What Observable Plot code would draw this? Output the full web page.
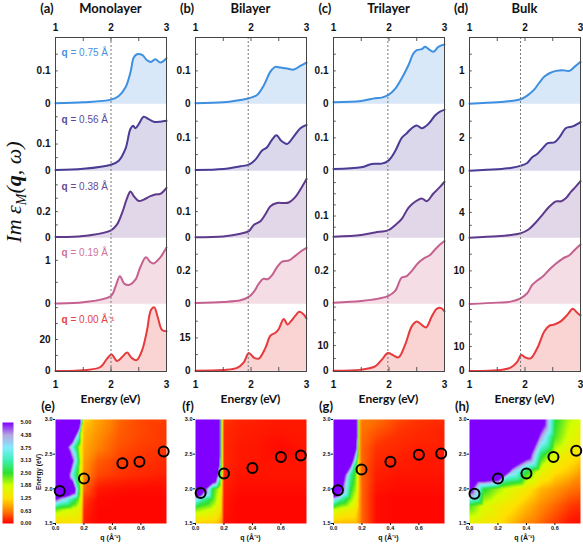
<!DOCTYPE html>
<html><head><meta charset="utf-8">
<script src="https://cdn.jsdelivr.net/npm/d3@7"></script>
<script src="https://cdn.jsdelivr.net/npm/@observablehq/plot@0.6"></script>
<style>
html,body{margin:0;padding:0;background:#fff;}
#fig{position:relative;width:583px;height:544px;overflow:hidden;background:#fff;}
#fig svg{max-width:none !important;}
.lbl{position:absolute;white-space:nowrap;transform:translate(-50%,-50%);color:#111;line-height:1;}
.ttl{font-family:Lato,"Open Sans",sans-serif;font-weight:bold;font-size:13px;}
.ax{font-family:Lato,"Open Sans",sans-serif;font-weight:bold;font-size:12px;}
.sm{font-family:"Liberation Sans",Arial,sans-serif;font-weight:bold;font-size:7px;}
</style></head><body><div id="fig"></div>
<script>
// ---------- labels ----------
const layerNames = ["Monolayer", "Bilayer", "Trilayer", "Bulk"];
const topLetters = ["(a)", "(b)", "(c)", "(d)"];
const mapLetters = ["(e)", "(f)", "(g)", "(h)"];
const qLabelValues = ["= 0.75 Å", "= 0.56 Å", "= 0.38 Å", "= 0.19 Å", "= 0.00 Å⁻¹"];
const energyTicks = [1, 2, 3];
const dashEnergy = [2.0, 1.95, 1.98, 1.92];

// y-axis extents (top of each row) and labelled tick per row
const yTopMono = [0.2, 0.245, 0.5, 1.52, 42];
const yTopBi = [0.2, 0.2, 0.25, 0.4, 30];
const yTopTri = [0.2, 0.2, 0.3, 0.4, 26];
const yTopBulk = [2, 4, 10.3, 20, 27];
const yMajorMono = [0.1, 0.1, 0.2, 1, 20];
const yMajorBi = [0.1, 0.1, 0.1, 0.2, 15];
const yMajorTri = [0.1, 0.1, 0.1, 0.2, 10];
const yMajorBulk = [1, 2, 4, 10, 10];

// ---------- spectra: [energy (eV), Im eps] ----------
const mono075 = [[1.0,0.003],[1.5,0.006],[2.0,0.014],[2.14,0.025],[2.26,0.05],[2.35,0.095],[2.41,0.14],[2.47,0.15],[2.56,0.148],[2.65,0.132],[2.72,0.127],[2.8,0.135],[2.89,0.125],[3.0,0.138]];
const mono056 = [[1.0,0.005],[1.5,0.009],[2.0,0.024],[2.14,0.039],[2.26,0.082],[2.35,0.155],[2.4,0.167],[2.44,0.158],[2.5,0.173],[2.59,0.2],[2.68,0.191],[2.77,0.182],[2.89,0.182],[3.0,0.185]];
const mono038 = [[1.0,0.01],[1.5,0.017],[2.0,0.06],[2.11,0.104],[2.2,0.19],[2.29,0.3],[2.35,0.35],[2.41,0.316],[2.5,0.279],[2.59,0.29],[2.71,0.316],[2.8,0.328],[2.89,0.333],[3.0,0.378]];
const mono019 = [[1.0,0.02],[1.5,0.045],[2.0,0.19],[2.08,0.4],[2.16,0.64],[2.24,0.47],[2.32,0.44],[2.44,0.56],[2.53,0.85],[2.63,1.07],[2.71,0.96],[2.77,0.93],[2.89,1.07],[3.0,1.29]];
const mono000 = [[1.0,0.2],[1.5,0.6],[1.81,2.7],[1.93,8],[2.01,10.5],[2.11,6.5],[2.2,9],[2.29,11.8],[2.37,8.5],[2.46,7],[2.56,13.2],[2.65,25.9],[2.72,38.5],[2.78,40.2],[2.84,34.3],[2.92,25.9],[3.0,25.2]];

const bi075 = [[1.0,0.003],[1.5,0.006],[1.81,0.013],[1.96,0.018],[2.11,0.028],[2.23,0.056],[2.35,0.098],[2.44,0.112],[2.53,0.11],[2.65,0.107],[2.77,0.104],[2.89,0.115],[3.0,0.125]];
const bi056 = [[1.0,0.004],[1.5,0.007],[1.81,0.015],[1.96,0.02],[2.08,0.035],[2.2,0.062],[2.29,0.072],[2.38,0.095],[2.46,0.108],[2.54,0.092],[2.65,0.082],[2.77,0.104],[2.89,0.129],[3.0,0.139]];
const bi038 = [[1.0,0.004],[1.5,0.007],[1.81,0.017],[1.96,0.027],[2.05,0.05],[2.17,0.064],[2.26,0.09],[2.35,0.12],[2.47,0.132],[2.59,0.132],[2.68,0.134],[2.8,0.155],[2.92,0.193],[3.0,0.222]];
const bi019 = [[1.0,0.008],[1.5,0.014],[1.81,0.024],[1.96,0.044],[2.05,0.074],[2.14,0.123],[2.22,0.152],[2.3,0.15],[2.38,0.175],[2.47,0.223],[2.56,0.256],[2.68,0.262],[2.77,0.283],[2.89,0.315],[3.0,0.338]];
const bi000 = [[1.0,0.3],[1.5,0.6],[1.75,1.5],[1.87,4],[1.96,8.2],[2.05,6.2],[2.14,5.7],[2.26,10.5],[2.35,16],[2.44,17.3],[2.5,19],[2.59,23.5],[2.66,21],[2.72,22.5],[2.8,25],[2.87,26.7],[2.95,25.5],[3.0,23.7]];

const tri075 = [[1.0,0.006],[1.5,0.01],[1.75,0.018],[1.87,0.02],[1.99,0.028],[2.11,0.046],[2.23,0.078],[2.35,0.117],[2.44,0.152],[2.5,0.162],[2.59,0.165],[2.65,0.172],[2.71,0.166],[2.8,0.157],[2.89,0.172],[3.0,0.179]];
const tri056 = [[1.0,0.007],[1.5,0.012],[1.69,0.022],[1.87,0.023],[1.99,0.032],[2.11,0.06],[2.23,0.1],[2.32,0.114],[2.41,0.129],[2.5,0.137],[2.59,0.129],[2.71,0.142],[2.83,0.167],[2.92,0.179],[3.0,0.184]];
const tri038 = [[1.0,0.007],[1.5,0.015],[1.75,0.026],[1.99,0.037],[2.11,0.059],[2.23,0.087],[2.35,0.137],[2.47,0.164],[2.59,0.179],[2.68,0.167],[2.8,0.201],[2.92,0.231],[3.0,0.254]];
const tri019 = [[1.0,0.01],[1.5,0.02],[1.81,0.034],[1.99,0.05],[2.11,0.08],[2.23,0.16],[2.32,0.169],[2.41,0.2],[2.53,0.249],[2.65,0.279],[2.74,0.295],[2.83,0.328],[2.92,0.358],[3.0,0.378]];
const tri000 = [[1.0,0.26],[1.5,0.65],[1.75,1.9],[1.87,4.5],[1.98,7.1],[2.08,6.2],[2.17,5.4],[2.29,10.3],[2.41,17.5],[2.5,19.4],[2.59,18.1],[2.67,17.1],[2.77,21.3],[2.86,24.3],[2.94,24.6],[3.0,23.3]];

const bulk075 = [[1.0,0.02],[1.5,0.06],[1.74,0.1],[1.92,0.15],[2.04,0.26],[2.16,0.43],[2.25,0.63],[2.35,0.83],[2.44,0.93],[2.56,1.0],[2.68,1.02],[2.8,1.0],[2.89,1.12],[3.0,1.27]];
const bulk056 = [[1.0,0.04],[1.5,0.12],[1.74,0.2],[1.93,0.34],[2.04,0.5],[2.13,0.84],[2.22,1.03],[2.32,1.39],[2.41,1.69],[2.53,1.73],[2.62,2.03],[2.74,2.59],[2.86,2.69],[3.0,2.95]];
const bulk038 = [[1.0,0.1],[1.5,0.3],[1.74,0.5],[1.93,0.8],[2.07,1.4],[2.19,2.4],[2.32,3.7],[2.44,4.9],[2.56,5.7],[2.65,5.7],[2.74,6.2],[2.83,7.2],[2.92,8],[3.0,8.8]];
const bulk019 = [[1.0,0.1],[1.5,0.5],[1.74,0.8],[1.92,1.8],[2.04,3.3],[2.13,5.8],[2.22,7.1],[2.32,8.3],[2.44,10.4],[2.56,12.2],[2.68,13.7],[2.8,14.7],[2.89,16.2],[3.0,17.9]];
const bulk000 = [[1.0,0.1],[1.5,0.4],[1.74,1.5],[1.86,3.8],[1.93,6.6],[2.01,5.6],[2.1,5.2],[2.22,9.3],[2.35,16.2],[2.44,18.5],[2.53,18.9],[2.65,20.3],[2.77,23],[2.86,25.3],[2.94,23.7],[3.0,22.6]];

// ---------- loss maps ----------
const heatQ = [0, 0.06, 0.12, 0.16, 0.18, 0.2, 0.3, 0.45, 0.6, 0.8];
const heatE = [1.5, 1.7, 1.85, 2.0, 2.2, 2.4, 2.6, 2.8, 3.0];
const heatMono = [
  [1.1,1.2,1.3,1.3,1.2,0.15,0.03,0.03,0.03,0.03],
  [2.3,2.0,1.8,1.6,1.4,0.2,0.03,0.03,0.03,0.03],
  [5,4,3,2.3,1.6,0.3,0.05,0.03,0.03,0.03],
  [8,8,6.5,3,1.8,0.5,0.12,0.08,0.06,0.06],
  [8,7,3.5,2.3,1.5,0.7,0.35,0.25,0.2,0.15],
  [8,8,5,2.8,1.6,0.8,0.45,0.3,0.25,0.2],
  [8,6,3.5,2.2,1.5,0.9,0.65,0.4,0.3,0.25],
  [8,8,7,4,1.8,1.0,0.75,0.45,0.35,0.25],
  [8,8,8,8,4,1.2,0.85,0.5,0.35,0.3]];
const heatBi = [
  [1.1,1.1,1.1,1.0,0.9,0.08,0.03,0.03,0.03,0.03],
  [2.2,2.0,1.8,1.5,1.2,0.1,0.03,0.03,0.03,0.03],
  [4,3,2.4,1.8,1.3,0.12,0.03,0.03,0.03,0.03],
  [8,5.5,2.6,2.0,1.5,0.15,0.06,0.06,0.06,0.06],
  [8,8,8,4.5,2.2,0.2,0.1,0.1,0.1,0.1],
  [8,8,8,7,2.5,0.2,0.12,0.1,0.1,0.1],
  [8,8,8,8,2.5,0.2,0.12,0.1,0.05,0.1],
  [8,8,8,8,2.5,0.2,0.15,0.12,0.1,0.12],
  [8,8,8,8,2.5,0.25,0.18,0.15,0.12,0.12]];
const heatTri = [
  [1.0,1.0,1.0,1.0,0.8,0.5,0.06,0.03,0.03,0.03],
  [2.0,1.7,1.5,1.3,0.9,0.5,0.06,0.03,0.03,0.03],
  [4,3,2.2,1.7,0.9,0.5,0.06,0.03,0.03,0.03],
  [8,5,2.6,2.0,1.0,0.5,0.1,0.06,0.06,0.06],
  [8,6,3,2.2,1.0,0.5,0.15,0.1,0.1,0.1],
  [8,8,6,3,1.0,0.5,0.2,0.15,0.12,0.12],
  [8,8,8,5,1.0,0.5,0.25,0.2,0.15,0.15],
  [8,8,8,6,1.0,0.55,0.4,0.25,0.2,0.15],
  [8,8,8,6,1.0,0.6,0.55,0.35,0.25,0.2]];
const heatQBulk = [0, 0.1, 0.2, 0.3, 0.4, 0.5, 0.6, 0.7, 0.8];
const heatEBulk = [1.5, 1.75, 2.0, 2.25, 2.5, 2.75, 3.0];
const heatBulk = [
  [1.6,1.4,1.3,1.0,0.7,0.5,0.3,0.1,0.05],
  [2.4,1.8,1.5,1.3,1.0,0.7,0.5,0.3,0.2],
  [5.5,2.6,2.1,1.7,1.4,1.0,0.8,0.6,0.5],
  [8,8,8,4.2,2.6,1.7,1.3,1.1,0.8],
  [8,8,8,8,6,2.8,1.8,1.4,1.2],
  [8,8,8,8,8,4.5,2.4,1.8,1.5],
  [8,8,8,8,8,6,2.6,2.0,1.8]];

// peak positions (circles)
const peakQMono = [0.03, 0.2, 0.47, 0.59, 0.76], peakEMono = [1.97, 2.15, 2.37, 2.39, 2.54];
const peakQBi = [0.036, 0.2, 0.4, 0.6, 0.74], peakEBi = [1.94, 2.22, 2.30, 2.46, 2.48];
const peakQTri = [0.031, 0.197, 0.4, 0.6, 0.757], peakETri = [1.98, 2.28, 2.39, 2.49, 2.51];
const peakQBulk = [0.035, 0.2, 0.4, 0.59, 0.75], peakEBulk = [1.93, 2.15, 2.22, 2.46, 2.55];

// colour bar
const cbTicks = [0, 0.63, 1.25, 1.88, 2.5, 3.13, 3.75, 4.38, 5];
const cbColors = ["#ff0000", "#ff8000", "#ffe000", "#d4ff00", "#2ee02e", "#3cf0b4", "#84ecff", "#b4a8e0", "#8000ff"];

// ---------- assemble ----------
const spectra = [
  [mono075, mono056, mono038, mono019, mono000],
  [bi075, bi056, bi038, bi019, bi000],
  [tri075, tri056, tri038, tri019, tri000],
  [bulk075, bulk056, bulk038, bulk019, bulk000]];
const yTop = [yTopMono, yTopBi, yTopTri, yTopBulk];
const yMajor = [yMajorMono, yMajorBi, yMajorTri, yMajorBulk];
const heatGrids = [[heatQ, heatE, heatMono], [heatQ, heatE, heatBi], [heatQ, heatE, heatTri], [heatQBulk, heatEBulk, heatBulk]];
const peaks = [[peakQMono, peakEMono], [peakQBi, peakEBi], [peakQTri, peakETri], [peakQBulk, peakEBulk]];

const lineColors = ["#3e8fe0", "#4b3b95", "#5e3a8c", "#c4618f", "#e63a3c"];
const fillColors = ["#d9e8f8", "#dcd8ec", "#e2d7e9", "#f5dde6", "#f9d4d3"];
const labelColors = ["#4a90e2", "#594a9c", "#6a4a94", "#cf7399", "#e84040"];

const fig = document.getElementById("fig");
function place(node, left, top) {
  const d = document.createElement("div");
  d.style.position = "absolute"; d.style.left = left + "px"; d.style.top = top + "px";
  d.style.width = "max-content";
  d.appendChild(node); fig.appendChild(d);
}
function label(text, cls, x, y, extra) {
  const d = document.createElement("div");
  d.className = "lbl " + cls; d.textContent = text;
  d.style.left = x + "px"; d.style.top = y + "px";
  if (extra) Object.assign(d.style, extra);
  fig.appendChild(d);
}

const colLeft = [55, 195, 333, 469];
const colW = 111;
const frameTop = 37, frameBottom = 371;
const rowH = (frameBottom - frameTop) / 5;
const padL = 35;
const baseStyle = {background: "transparent", overflow: "visible", maxWidth: "none", fontFamily: '"Liberation Sans", Arial, sans-serif', fontSize: "10px", fontWeight: "bold", color: "#111"};

for (let c = 0; c < 4; c++) {
  for (let r = 0; r < 5; r++) {
    const data = spectra[c][r].map(([E, v]) => ({E, v}));
    const top = yTop[c][r], maj = yMajor[c][r];
    const inTicks = d3.range(1, 12).map(k => k * maj / 2).filter(v => v < top * 0.97);
    const marks = [
      Plot.areaY(data, {x: "E", y: "v", fill: fillColors[r], curve: "catmull-rom"}),
      Plot.lineY(data, {x: "E", y: "v", stroke: lineColors[r], strokeWidth: 2, curve: "catmull-rom"}),
      Plot.ruleY(inTicks, {x1: 1, x2: 1.05, stroke: "#555", strokeWidth: 1}),
      Plot.axisY({ticks: [0, maj], tickSize: 0, tickPadding: 5, label: null, tickFormat: d => String(d)})
    ];
    if (c === 0) {
      marks.push(Plot.text(["q"], {frameAnchor: "top-left", dx: 6, dy: 11, fill: labelColors[r], fontWeight: "bold", fontSize: 10, textAnchor: "start"}));
      marks.push(Plot.text([qLabelValues[r]], {frameAnchor: "top-left", dx: 15, dy: 11, fill: labelColors[r], fontWeight: "normal", fontSize: 10, textAnchor: "start"}));
    }
    const p = Plot.plot({
      width: padL + colW, height: rowH,
      marginLeft: padL, marginRight: 0, marginTop: 0, marginBottom: 0,
      x: {domain: [1, 3], axis: null},
      y: {domain: [0, top]},
      style: baseStyle,
      marks
    });
    place(p, colLeft[c] - padL, frameTop + r * rowH);
  }
  // column frame, energy axes, dashed guide
  const H = frameBottom - frameTop;
  const colPlot = Plot.plot({
    width: padL + colW + 4, height: 400,
    marginLeft: padL, marginRight: 4, marginTop: frameTop, marginBottom: 400 - frameBottom,
    x: {domain: [1, 3]},
    y: {domain: [0, H], axis: null},
    style: baseStyle,
    marks: [
      Plot.ruleX([dashEnergy[c]], {stroke: "#777", strokeWidth: 1, strokeDasharray: "2,2"}),
      Plot.ruleX([1.5, 2, 2.5], {y1: H, y2: H - 4, stroke: "#555"}),
      Plot.ruleX([1.5, 2, 2.5], {y1: 0, y2: 4, stroke: "#555"}),
      Plot.frame({stroke: "#444", strokeWidth: 1}),
      Plot.axisX({anchor: "top", ticks: energyTicks, tickSize: 0, tickPadding: 7, label: null, tickFormat: d => String(d)}),
      Plot.axisX({anchor: "bottom", ticks: energyTicks, tickSize: 0, tickPadding: 9, label: null, tickFormat: d => String(d)})
    ]
  });
  place(colPlot, colLeft[c] - padL, 0);

  // loss map
  const [qs, es, grid] = heatGrids[c];
  const pts = [];
  es.forEach((E, i) => qs.forEach((q, j) => pts.push({q, E, v: grid[i][j]})));
  const circ = peaks[c][0].map((q, i) => ({q, E: peaks[c][1][i]}));
  const mapPlot = Plot.plot({
    width: 30 + colW + 3, height: 5 + 104 + 12,
    marginLeft: 30, marginRight: 3, marginTop: 5, marginBottom: 12,
    x: {domain: [0, 0.78]},
    y: {domain: [1.5, 3.0]},
    color: {type: "linear", domain: cbTicks, range: cbColors, clamp: true},
    style: {...baseStyle, fontSize: "5.5px"},
    marks: [
      Plot.raster(pts, {x: "q", y: "E", fill: "v", interpolate: "barycentric"}),
      Plot.dot(circ, {x: "q", y: "E", r: 5, stroke: "#000", strokeWidth: 2, fill: "none"}),
      Plot.axisX({ticks: [0, 0.2, 0.4, 0.6], tickFormat: ".1f", tickSize: 2, tickPadding: 1, label: null}),
      Plot.axisY({ticks: [1.5, 2, 2.5, 3], tickFormat: ".1f", tickSize: 2, tickPadding: 1, label: null})
    ]
  });
  place(mapPlot, colLeft[c] - 30, 414);

  const cx = colLeft[c] + colW / 2;
  label(topLetters[c], "ttl", colLeft[c] - 8, 8);
  label(layerNames[c], "ttl", cx, 8);
  label("Energy (eV)", "ax", cx, 399);
  label(mapLetters[c], "ttl", colLeft[c] - 7, 406);
  label("q (Å⁻¹)", "sm", cx, 537);
}

// colour bar
const cb = Plot.plot({
  width: 40, height: 110, marginLeft: 2, marginRight: 27, marginTop: 3, marginBottom: 6,
  x: {domain: [0, 1], axis: null},
  y: {domain: [0, 5]},
  color: {type: "linear", domain: cbTicks, range: cbColors, clamp: true},
  style: {...baseStyle, fontSize: "5.5px"},
  marks: [
    Plot.raster({x1: 0, x2: 1, y1: 0, y2: 5, fill: (x, y) => y}),
    Plot.axisY({anchor: "right", ticks: cbTicks, tickFormat: ".2f", tickSize: 0, tickPadding: 7, label: null})
  ]
});
place(cb, 0, 419);

label("Energy (eV)", "sm", 39, 472, {transform: "translate(-50%,-50%) rotate(-90deg)", fontSize: "6.5px"});

// big y label
const ns = "http://www.w3.org/2000/svg";
const ysvg = document.createElementNS(ns, "svg");
ysvg.setAttribute("width", 34); ysvg.setAttribute("height", 260);
ysvg.innerHTML = '<text transform="translate(21,117) rotate(-90)" text-anchor="middle" font-family="Liberation Serif, serif" font-style="italic" font-size="22" fill="#111">Im ε<tspan font-size="14" dy="5">M</tspan><tspan dy="-5">(</tspan><tspan font-weight="bold">q</tspan>, ω)</text>';
place(ysvg, 0, 75);
</script></body></html>
